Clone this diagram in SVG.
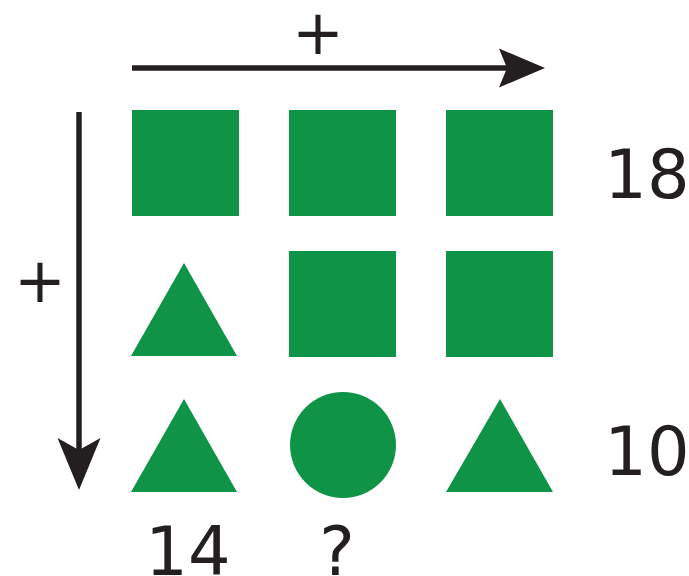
<svg xmlns="http://www.w3.org/2000/svg" width="689" height="576" viewBox="0 0 689 576">
<style>
.g{fill:#0e9347}
.t{font-family:"DejaVu Sans",Verdana,sans-serif;font-size:67px;fill:#231f20;text-anchor:middle}
.p{font-family:"DejaVu Sans",Verdana,sans-serif;font-size:62px;fill:#231f20;text-anchor:middle}
.ln{stroke:#231f20;stroke-width:5.5;fill:none}
.ah{fill:#231f20}
</style>
<rect width="689" height="576" fill="#fff"/>
<g id="connectors">
<line class="ln" x1="132" y1="68" x2="512" y2="68"/>
<path class="ah" d="M545,68 L499,48.5 L507,68 L499,87.5 Z"/>
<line class="ln" x1="79" y1="112" x2="79" y2="455"/>
<path class="ah" d="M79,490 L57.5,438 L79,450 L100.5,438 Z"/>
</g>
<g id="label-plus-top"><text class="p" x="318" y="54">+</text></g>
<g id="label-plus-left"><text class="p" x="40" y="302">+</text></g>
<g id="r1c1"><rect class="g" x="132" y="110" width="107" height="106"/></g>
<g id="r1c2"><rect class="g" x="289" y="110" width="107" height="106"/></g>
<g id="r1c3"><rect class="g" x="446" y="110" width="107" height="106"/></g>
<g id="r2c1"><polygon class="g" points="184,263 237,356 131,356"/></g>
<g id="r2c2"><rect class="g" x="289" y="251" width="107" height="106"/></g>
<g id="r2c3"><rect class="g" x="446" y="251" width="107" height="106"/></g>
<g id="r3c1"><polygon class="g" points="184,399 237,492 131,492"/></g>
<g id="r3c2"><circle class="g" cx="343" cy="445" r="53"/></g>
<g id="r3c3"><polygon class="g" points="500,399 553,492 446,492"/></g>
<g id="label-18"><text class="t" x="647" y="198">18</text></g>
<g id="label-10"><text class="t" x="647" y="475">10</text></g>
<g id="label-14"><text class="t" x="188" y="575">14</text></g>
<g id="label-q"><text class="t" x="337" y="575">?</text></g>
</svg>
